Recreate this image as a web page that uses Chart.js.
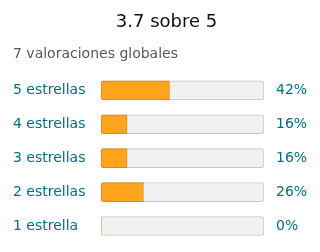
<!DOCTYPE html>
<html lang="es">
<head>
  <meta charset="UTF-8" />
  <title>Valoraciones</title>
  <script src="https://cdn.jsdelivr.net/npm/chart.js"></script>
  <style>
    html, body { margin: 0; padding: 0; background: #fff; overflow: hidden; }
    canvas { display: block; }
  </style>
</head>
<body>
  <canvas id="ratingChart" width="320" height="252"></canvas>

  <script>
    // rating data
    const starLabels = ['5 estrellas', '4 estrellas', '3 estrellas', '2 estrellas', '1 estrella'];
    const percentValues = [42, 16, 16, 26, 0];
    const trackValues = [100, 100, 100, 100, 100];
    const pctLabels = percentValues.map(v => v + '%');

    const teal = '#007185';
    const font = 'DejaVu Sans';

    // fixed axis width, and no extra top/bottom padding from tick labels
    const fixAxis = w => s => {
      s.width = w;
      s.paddingTop = 0;
      s.paddingBottom = 0;
    };

    new Chart(document.getElementById('ratingChart'), {
      type: 'bar',
      data: {
        labels: starLabels,
        datasets: [
          {
            // orange fill on top
            data: percentValues,
            order: 0,
            backgroundColor: '#ffa41c',
            borderColor: '#e3890c',
            borderWidth: ctx => (ctx.raw > 0 ? 1 : 0),
            borderSkipped: false,
            borderRadius: { topLeft: 3, bottomLeft: 3, topRight: 0, bottomRight: 0 },
            barThickness: 19
          },
          {
            // grey track behind
            data: trackValues,
            order: 1,
            backgroundColor: '#f0f2f2',
            borderColor: '#c5c8c8',
            borderWidth: 1,
            borderSkipped: false,
            borderRadius: 3,
            barThickness: 19
          }
        ]
      },
      options: {
        indexAxis: 'y',
        responsive: false,
        animation: false,
        layout: { padding: { left: 13, right: 0, top: 2, bottom: 9 } },
        datasets: { bar: { grouped: false } },
        scales: {
          x: { display: false, min: 0, max: 100 },
          y: {
            grid: { display: false, drawTicks: false },
            border: { display: false },
            ticks: { color: teal, font: { family: font, size: 14 }, crossAlign: 'far', padding: 0 },
            afterFit: fixAxis(88)
          },
          y2: {
            type: 'category',
            labels: pctLabels,
            position: 'right',
            offset: true,
            grid: { display: false, drawTicks: false },
            border: { display: false },
            ticks: { color: teal, font: { family: font, size: 14 }, crossAlign: 'near', padding: 12 },
            afterFit: fixAxis(56)
          }
        },
        plugins: {
          legend: { display: false },
          tooltip: { enabled: false },
          title: {
            display: true,
            text: '3.7 sobre 5',
            color: '#0f1111',
            font: { family: font, size: 18, weight: 'normal' },
            padding: { top: 10, bottom: 10 }
          },
          subtitle: {
            display: true,
            text: '7 valoraciones globales',
            align: 'start',
            color: '#565959',
            font: { family: font, size: 14, weight: 'normal' },
            padding: { top: 2, bottom: 11 }
          }
        }
      }
    });
  </script>
</body>
</html>
